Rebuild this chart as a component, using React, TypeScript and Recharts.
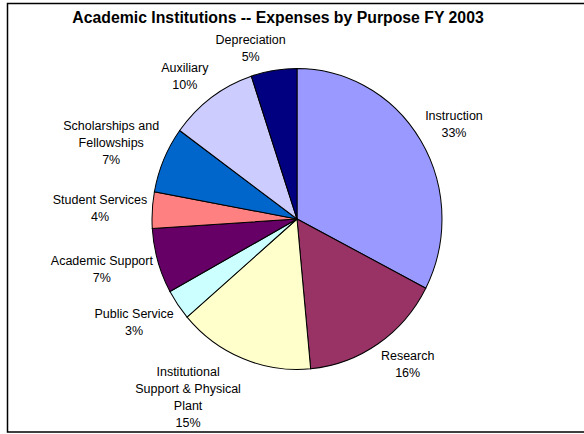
import { PieChart, Pie, Cell } from 'recharts';

const categories = [
  'Instruction',
  'Research',
  'Institutional Support & Physical Plant',
  'Public Service',
  'Academic Support',
  'Student Services',
  'Scholarships and Fellowships',
  'Auxiliary',
  'Depreciation',
];
const shares = [32.6, 15.9, 15.2, 3.3, 7.0, 3.9, 7.1, 9.9, 5.1];
const colors = ['#9999FF', '#993366', '#FFFFCC', '#CCFFFF', '#660066', '#FF8080', '#0066CC', '#CCCCFF', '#000080'];
const title = 'Academic Institutions -- Expenses by Purpose FY 2003';

const data = categories.map((name, i) => ({ name, value: shares[i] }));

const CX = 297;
const CY = 219;
const R = 145;
const ASPECT = 1.038; // excel squashes the pie a bit
const GAP = 5;
const LINE = 17;
const FS = 12.5;
const FONT = "'Liberation Sans', Arial, sans-serif";
const RAD = Math.PI / 180;

let ctx: CanvasRenderingContext2D | null = null;
const measure = (t: string) => {
  if (!ctx) ctx = document.createElement('canvas').getContext('2d');
  if (!ctx) return t.length * 6.4;
  ctx.font = `${FS}px ${FONT}`;
  return ctx.measureText(t).width;
};

// greedy wrap like excel does for long category names
const wrap = (s: string, max = 18) => {
  const out: string[] = [];
  let cur = '';
  for (const w of s.split(' ')) {
    if (cur && (cur + ' ' + w).length > max) {
      out.push(cur);
      cur = w;
    } else cur = cur ? cur + ' ' + w : w;
  }
  if (cur) out.push(cur);
  return out;
};

const clamp = (v: number) => Math.max(-1, Math.min(1, v));

const renderLabel = (props: any) => {
  const { cx, cy, midAngle, outerRadius, percent, name } = props;
  const lines = [...wrap(name), `${Math.round(percent * 100)}%`];
  const dx = Math.cos(midAngle * RAD);
  const dy = -Math.sin(midAngle * RAD);
  const px = cx + (outerRadius + GAP) * dx;
  const py = cy + (outerRadius * ASPECT + GAP) * dy;
  const w = Math.max(...lines.map(measure));
  const h = lines.length * LINE;
  const lx = px + (w / 2) * clamp(dx * 4);
  const ly = py + (h / 2) * clamp(dy * 1.5);
  return (
    <g>
      {lines.map((t, i) => (
        <text key={i} x={lx} y={ly - h / 2 + LINE / 2 + i * LINE} textAnchor="middle" dominantBaseline="central"
          fontSize={FS} fontFamily={FONT} fill="#000">
          {t}
        </text>
      ))}
    </g>
  );
};

export default function App() {
  return (
    <div style={{ position: 'absolute', left: 0, top: 0, width: 584, height: 434, background: '#fff', overflow: 'hidden' }}>
      <style>{`.recharts-sector{transform-origin:${CX}px ${CY}px;transform:scaleY(${ASPECT})}`}</style>
      <PieChart width={584} height={434} margin={{ top: 0, right: 0, bottom: 0, left: 0 }}>
        <Pie
          data={data}
          dataKey="value"
          nameKey="name"
          cx={CX}
          cy={CY}
          outerRadius={R}
          startAngle={90}
          endAngle={-270}
          stroke="#000"
          strokeWidth={1}
          labelLine={false}
          label={renderLabel}
          isAnimationActive={false}
        >
          {data.map((d, i) => (
            <Cell key={d.name} fill={colors[i]} />
          ))}
        </Pie>
      </PieChart>
      <svg width={584} height={434} style={{ position: 'absolute', left: 0, top: 0, pointerEvents: 'none' }}>
        <rect x={7.5} y={3.5} width={590} height={428.5} fill="none" stroke="#000" strokeWidth={1.5} />
        <text x={278} y={23} textAnchor="middle" fontSize={15.8} fontWeight="bold" fontFamily={FONT} fill="#000">
          {title}
        </text>
      </svg>
    </div>
  );
}
